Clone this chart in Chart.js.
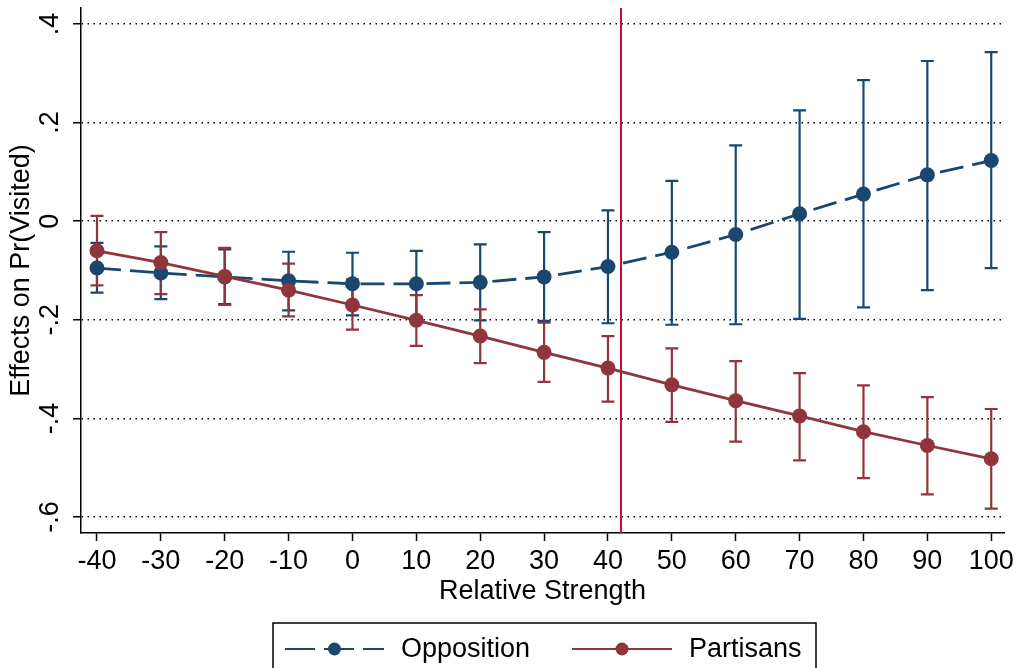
<!DOCTYPE html>
<html>
<head>
<meta charset="utf-8">
<script src="https://cdn.jsdelivr.net/npm/chart.js@4.4.1/dist/chart.umd.min.js"></script>
<style>
  html, body { margin: 0; padding: 0; background: #fff; }
  #wrap { width: 1018px; height: 668px; position: relative; overflow: hidden; }
</style>
</head>
<body>
<div id="wrap"><canvas id="c" width="1018" height="668"></canvas></div>
<script>
// Marginal effects on Pr(Visited) by relative strength, with 95% intervals
const strength = [-40, -30, -20, -10, 0, 10, 20, 30, 40, 50, 60, 70, 80, 90, 100];

const oppEst = [-0.095, -0.105, -0.113, -0.121, -0.127, -0.127, -0.124, -0.113, -0.092, -0.063, -0.027, 0.015, 0.055, 0.094, 0.123];
const oppLo  = [-0.145, -0.158, -0.168, -0.181, -0.191, -0.194, -0.201, -0.202, -0.207, -0.210, -0.209, -0.198, -0.175, -0.140, -0.095];
const oppHi  = [-0.044, -0.051, -0.057, -0.062, -0.064, -0.060, -0.047, -0.022, 0.022, 0.082, 0.154, 0.225, 0.286, 0.325, 0.343];

const parEst = [-0.060, -0.084, -0.112, -0.140, -0.170, -0.201, -0.233, -0.266, -0.298, -0.332, -0.364, -0.395, -0.427, -0.455, -0.482];
const parLo  = [-0.130, -0.148, -0.170, -0.193, -0.220, -0.253, -0.288, -0.326, -0.366, -0.407, -0.447, -0.485, -0.521, -0.554, -0.583];
const parHi  = [0.011, -0.022, -0.054, -0.086, -0.118, -0.150, -0.179, -0.206, -0.233, -0.258, -0.284, -0.308, -0.333, -0.357, -0.381];

const xTicks = [-40, -30, -20, -10, 0, 10, 20, 30, 40, 50, 60, 70, 80, 90, 100];
const yTicks = [-0.6, -0.4, -0.2, 0, 0.2, 0.4];
const yTickLabels = ['-.6', '-.4', '-.2', '0', '.2', '.4'];
const cutoff = 42;

const FONT = "'Liberation Sans', Helvetica, Arial, sans-serif";
const FONT_SIZE = 27;
const BLUE = '#1a476f';
const RED = '#90353b';
const CUT_COLOR = '#cc0a2f';

// Capped interval bars for each series
const errorBars = {
  id: 'errorBars',
  beforeDatasetsDraw(chart) {
    const { ctx, scales: { x, y } } = chart;
    const half = 6.5;
    chart.data.datasets.forEach(ds => {
      ctx.save();
      ctx.strokeStyle = ds.borderColor;
      ctx.lineWidth = 2.2;
      ctx.setLineDash([]);
      ds.errLo.forEach((lo, i) => {
        const px = x.getPixelForValue(strength[i]);
        const p1 = y.getPixelForValue(lo);
        const p2 = y.getPixelForValue(ds.errHi[i]);
        ctx.beginPath();
        ctx.moveTo(px, p1); ctx.lineTo(px, p2);
        ctx.moveTo(px - half, p1); ctx.lineTo(px + half, p1);
        ctx.moveTo(px - half, p2); ctx.lineTo(px + half, p2);
        ctx.stroke();
      });
      ctx.restore();
    });
  }
};

// Vertical reference line at the cutoff
const cutLine = {
  id: 'cutLine',
  beforeDatasetsDraw(chart) {
    const { ctx, chartArea, scales: { x } } = chart;
    const px = Math.round(x.getPixelForValue(cutoff));
    ctx.save();
    ctx.strokeStyle = CUT_COLOR;
    ctx.lineWidth = 2;
    ctx.beginPath();
    ctx.moveTo(px, chartArea.top);
    ctx.lineTo(px, chartArea.bottom);
    ctx.stroke();
    ctx.restore();
  }
};

// Rotated y tick labels
const yLabels = {
  id: 'yLabels',
  afterDraw(chart) {
    const { ctx, scales: { y } } = chart;
    ctx.save();
    ctx.fillStyle = '#000';
    ctx.font = FONT_SIZE + 'px ' + FONT;
    ctx.textAlign = 'center';
    ctx.textBaseline = 'alphabetic';
    yTicks.forEach((v, i) => {
      const py = y.getPixelForValue(v);
      ctx.save();
      ctx.translate(58, py);
      ctx.rotate(-Math.PI / 2);
      ctx.fillText(yTickLabels[i], 0, 0);
      ctx.restore();
    });
    ctx.restore();
  }
};

// Boxed legend below the axis
const boxLegend = {
  id: 'boxLegend',
  afterDraw(chart) {
    const { ctx } = chart;
    const ly = 649;
    ctx.save();
    ctx.strokeStyle = '#000';
    ctx.lineWidth = 1.5;
    ctx.strokeRect(273, 623, 543, 80);

    const items = [
      { ds: chart.data.datasets[0], x0: 285, x1: 384, dash: [30, 9], tx: 401 },
      { ds: chart.data.datasets[1], x0: 572, x1: 672, dash: [], tx: 689 }
    ];
    items.forEach(it => {
      ctx.strokeStyle = it.ds.borderColor;
      ctx.lineWidth = 2.2;
      ctx.setLineDash(it.dash);
      ctx.beginPath();
      ctx.moveTo(it.x0, ly);
      ctx.lineTo(it.x1, ly);
      ctx.stroke();
      ctx.setLineDash([]);
      ctx.fillStyle = it.ds.borderColor;
      ctx.beginPath();
      ctx.arc((it.x0 + it.x1) / 2, ly, 6.5, 0, Math.PI * 2);
      ctx.fill();
      ctx.fillStyle = '#000';
      ctx.font = FONT_SIZE + 'px ' + FONT;
      ctx.textAlign = 'left';
      ctx.textBaseline = 'middle';
      ctx.fillText(it.ds.label, it.tx, ly + 1);
    });
    ctx.restore();
  }
};

new Chart(document.getElementById('c').getContext('2d'), {
  type: 'line',
  data: {
    datasets: [
      {
        label: 'Opposition',
        data: strength.map((s, i) => ({ x: s, y: oppEst[i] })),
        borderColor: BLUE,
        backgroundColor: BLUE,
        borderWidth: 2.8,
        borderDash: [24, 9],
        pointRadius: 7.5,
        pointBorderWidth: 0,
        pointBackgroundColor: BLUE,
        tension: 0,
        order: 2,
        errLo: oppLo,
        errHi: oppHi
      },
      {
        label: 'Partisans',
        data: strength.map((s, i) => ({ x: s, y: parEst[i] })),
        borderColor: RED,
        backgroundColor: RED,
        borderWidth: 2.8,
        pointRadius: 7.5,
        pointBorderWidth: 0,
        pointBackgroundColor: RED,
        tension: 0,
        order: 1,
        errLo: parLo,
        errHi: parHi
      }
    ]
  },
  options: {
    responsive: false,
    animation: false,
    devicePixelRatio: 1,
    layout: { padding: { top: 8, right: 14, left: 0, bottom: 0 } },
    plugins: { legend: { display: false }, tooltip: { enabled: false } },
    scales: {
      x: {
        type: 'linear',
        min: -42.5,
        max: 102,
        afterBuildTicks: s => { s.ticks = xTicks.map(v => ({ value: v })); },
        afterFit: s => { s.height = 135; },
        ticks: {
          font: { family: FONT, size: FONT_SIZE },
          color: '#000',
          padding: 4,
          maxRotation: 0,
          autoSkip: false,
          callback: v => String(v)
        },
        grid: { drawOnChartArea: false, drawTicks: true, tickLength: 8, tickColor: '#000', tickWidth: 1.5 },
        border: { display: true, color: '#000', width: 1.5 },
        title: {
          display: true,
          text: 'Relative Strength',
          font: { family: FONT, size: FONT_SIZE },
          color: '#000',
          padding: { top: 0, bottom: 60 }
        }
      },
      y: {
        type: 'linear',
        min: -0.6325,
        max: 0.4325,
        afterBuildTicks: s => { s.ticks = yTicks.map(v => ({ value: v })); },
        afterFit: s => { s.width = 81; },
        ticks: { display: false },
        grid: {
          drawOnChartArea: true,
          drawTicks: true,
          tickLength: 8,
          color: '#000',
          lineWidth: 1.5,
          tickColor: '#000',
          tickWidth: 1.5
        },
        border: { display: true, color: '#000', width: 1.5, dash: [1.5, 4.5] },
        title: {
          display: true,
          text: 'Effects on Pr(Visited)',
          font: { family: FONT, size: FONT_SIZE },
          color: '#000',
          padding: { top: 5, bottom: 0 }
        }
      }
    }
  },
  plugins: [cutLine, errorBars, yLabels, boxLegend]
});
</script>
</body>
</html>
